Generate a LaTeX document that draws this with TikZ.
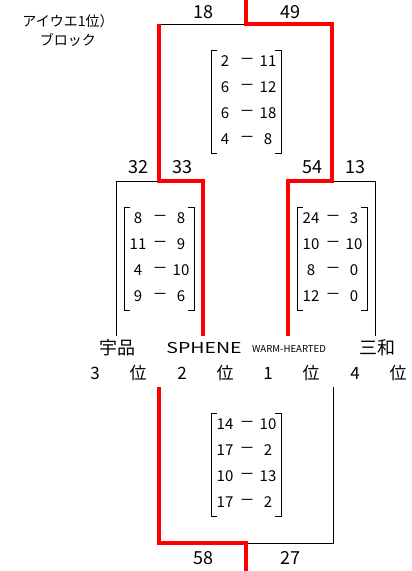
\documentclass[tikz,border=0pt]{standalone}
\usepackage{fontspec}
\setmainfont{Noto Sans CJK JP}
\tikzset{
  win/.style={draw=red, line width=4pt},
  lose/.style={draw=black, line width=1pt},
  score/.style={font=\fontsize{18}{18}\selectfont, inner sep=0pt},
  cell/.style={font=\fontsize{15}{15}\selectfont, inner sep=0pt},
  team/.style={font=\fontsize{18}{18}\selectfont, inner sep=0pt},
  rank/.style={font=\fontsize{17}{17}\selectfont, inner sep=0pt},
}
\newcommand{\gamebox}[4]{%
  \draw[lose] ({#2-29},#3) -- ({#2-35},#3) -- ({#2-35},{#3+103}) -- ({#2-29},{#3+103});
  \draw[lose] ({#2+29},#3) -- ({#2+35},#3) -- ({#2+35},{#3+103}) -- ({#2+29},{#3+103});
  \foreach \a/\b [count=\i] in {#4} {
    \node[cell] (#1a\i) at ({#2-21},{#3+11+26*(\i-1)}) {\a};
    \node[cell] (#1d\i) at ({#2+1},{#3+11+26*(\i-1)}) {－};
    \node[cell] (#1b\i) at ({#2+22},{#3+11+26*(\i-1)}) {\b};
  }}
\begin{document}
\begin{tikzpicture}[x=1pt, y=-1pt]
\useasboundingbox (0,0) rectangle (412,571);
\node[align=center, font=\fontsize{14}{19}\selectfont, inner sep=0pt] (block) at (68,31) {アイウエ1位）\\ブロック};
\coordinate (top) at (246,0);
\coordinate (root) at (246,24);
\coordinate (qL) at (159,24);
\coordinate (qR) at (332,24);
\coordinate (sL) at (159,181);
\coordinate (sR) at (332,181);
\coordinate (e1) at (116,336);
\coordinate (e2) at (203,336);
\coordinate (e3) at (288,336);
\coordinate (e4) at (375,336);
\coordinate (b1) at (159,387);
\coordinate (b2) at (333,387);
\coordinate (bot) at (246,543);
\coordinate (out) at (246,571);
\draw[lose] (qL) -- (root);
\draw[lose] (e1) |- (sL);
\draw[lose] (sR) -| (e4);
\draw[lose] (b2) |- (bot);
\draw[win] (top) -- (root) -- (qR) -- (sR) -| (e3);
\draw[win] (qL) -- (sL) -| (e2);
\draw[win] (b1) |- (bot) -- (out);
\node[score] (s18) at (203,12) {18};
\node[score] (s49) at (290,12) {49};
\node[score] (s32) at (138,167) {32};
\node[score] (s33) at (182,167) {33};
\node[score] (s54) at (312,167) {54};
\node[score] (s13) at (355,167) {13};
\node[score] (s58) at (203,558) {58};
\node[score] (s27) at (290,558) {27};
\gamebox{fin}{246}{50}{2/11,6/12,6/18,4/8}
\gamebox{left}{159}{207}{8/8,11/9,4/10,9/6}
\gamebox{right}{332}{207}{24/3,10/10,8/0,12/0}
\gamebox{third}{246}{413}{14/10,17/2,10/13,17/2}
\node[team] (ujina) at (117,348) {宇品};
\node[font=\fontsize{15}{15}\selectfont, inner sep=0pt] (sphene) at (204,348) {\scalebox{1.3}[1]{SPHENE}};
\node[font=\fontsize{9.6}{9.6}\selectfont, inner sep=0pt] (warm) at (289,349) {WARM-HEARTED};
\node[team] (sanwa) at (377,348) {三和};
\foreach \r/\x [count=\i] in {3/95,2/182,1/268,4/355} {
  \node[rank] (r\i) at (\x,373) {\r};
  \node[rank] (i\i) at (\x+43,373) {位};
}
\end{tikzpicture}
\end{document}
